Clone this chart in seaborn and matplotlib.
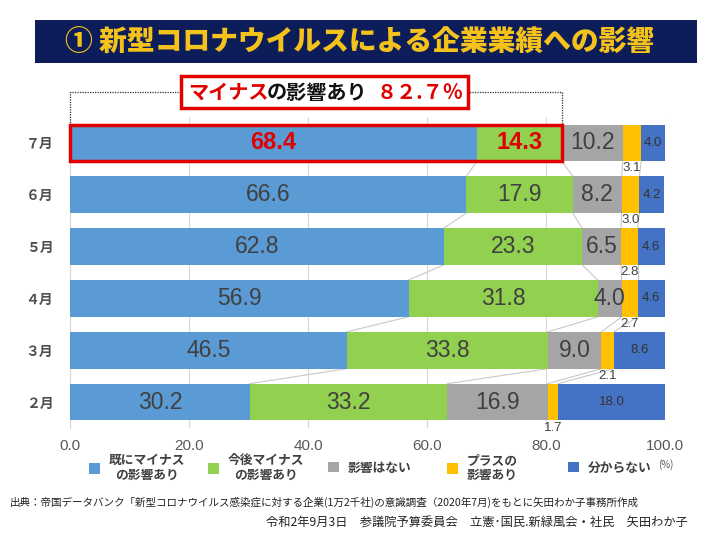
import numpy as np
import pandas as pd
import matplotlib.pyplot as plt
from matplotlib.patches import Rectangle, Patch
import seaborn as sns

sns.set_style("white")
plt.rcParams['font.family'] = ['Noto Sans CJK JP', 'DejaVu Sans']

months = ['７月', '６月', '５月', '４月', '３月', '２月']
already_minus = [68.4, 66.6, 62.8, 56.9, 46.5, 30.2]
future_minus = [14.3, 17.9, 23.3, 31.8, 33.8, 33.2]
no_effect = [10.2, 8.2, 6.5, 4.0, 9.0, 16.9]
plus_effect = [3.1, 3.0, 2.8, 2.7, 2.1, 1.7]
unknown = [4.0, 4.2, 4.6, 4.6, 8.6, 18.0]

series_names = ['既にマイナス\nの影響あり', '今後マイナス\nの影響あり', '影響はない',
                'プラスの\n影響あり', '分からない']
colors = ['#5b9bd5', '#92d050', '#a5a5a5', '#ffc000', '#4472c4']
xticks = [0, 20, 40, 60, 80, 100]

df = pd.DataFrame({'month': months, 's0': already_minus, 's1': future_minus,
                   's2': no_effect, 's3': plus_effect, 's4': unknown})
vals = df[['s0', 's1', 's2', 's3', 's4']].to_numpy()
cum = vals.cumsum(axis=1)
left = cum - vals

W, H = 720, 540
fig = plt.figure(figsize=(7.2, 5.4), dpi=100)
fig.patch.set_facecolor('white')

def fx(px):
    return px / W

def fy(py):
    return 1 - py / H

ax = fig.add_axes([fx(70), fy(428), fx(665) - fx(70), fy(117) - fy(428)])
bar_h = 0.71

# stacked bars: draw cumulative totals from the back
for k in range(4, -1, -1):
    sns.barplot(x=cum[:, k], y=df['month'], orient='h', color=colors[k],
                saturation=1, width=bar_h, ax=ax, edgecolor='none', zorder=3)

# series lines between bars
for k in range(4):
    for i in range(len(months) - 1):
        ax.plot([cum[i, k], cum[i + 1, k]], [i + bar_h / 2, i + 1 - bar_h / 2],
                color='#c8c8c8', lw=0.8, zorder=2)

ax.set_xlim(0, 100)
ax.set_ylim(len(months) - 0.5, -0.5)
ax.set_xticks(xticks)
ax.set_xticklabels([f'{t:.1f}' for t in xticks], fontsize=11, color='#595959',
                   family=['Liberation Sans', 'DejaVu Sans'])
ax.tick_params(axis='x', length=0, pad=8)
ax.tick_params(axis='y', length=0, pad=12)
for lab in ax.get_yticklabels():
    lab.set_fontsize(10)
    lab.set_fontweight('bold')
    lab.set_color('#505050')
ax.set_xlabel('')
ax.set_ylabel('')
ax.grid(axis='x', color='#d9d9d9', lw=0.8, zorder=0)
for s in ['top', 'right', 'bottom']:
    ax.spines[s].set_visible(False)
ax.spines['left'].set_color('#d9d9d9')

narrow = ['Liberation Sans Narrow', 'Liberation Sans', 'DejaVu Sans']
for i in range(len(months)):
    for k in range(3):
        x = left[i, k] + vals[i, k] / 2
        if i == 0 and k < 2:
            ax.text(x, i, f'{vals[i, k]:.1f}', ha='center', va='center', fontsize=17,
                    fontweight='bold', color='#e00000', family=narrow, zorder=5)
        else:
            ax.text(x, i, f'{vals[i, k]:.1f}', ha='center', va='center', fontsize=16.5,
                    color='#404040', family=narrow, zorder=5)
    ax.text(left[i, 3] + vals[i, 3] / 2, i + bar_h / 2 + 0.02, f'{vals[i, 3]:.1f}',
            ha='center', va='top', fontsize=9.5, color='#404040',
            family=['Liberation Sans', 'DejaVu Sans'], zorder=5)
    ax.text(left[i, 4] + vals[i, 4] / 2, i, f'{vals[i, 4]:.1f}', ha='center', va='center',
            fontsize=9.5, color='#333333', family=narrow, zorder=5)

# red frame around July minus share
ax.add_patch(Rectangle((0, -bar_h / 2), cum[0, 1], bar_h, fill=False, ec='#e00000',
                       lw=2.5, zorder=6, clip_on=False))
# dotted bracket
y_br = -0.98
ax.plot([0, 0, cum[0, 1], cum[0, 1]], [-bar_h / 2, y_br, y_br, -bar_h / 2],
        ls=(0, (1, 1)), color='#333333', lw=0.9, clip_on=False, zorder=4)

# callout box
fig.patches.append(Rectangle((fx(181), fy(108)), fx(468) - fx(181), fy(76) - fy(108),
                             transform=fig.transFigure, fc='white', ec='#e00000', lw=2.5,
                             zorder=10))
ty = fy(92)
fig.text(fx(188), ty, 'マイナス', color='#e00000', fontsize=14.5, fontweight='bold',
         va='center', ha='left', zorder=11)
fig.text(fx(267), ty, 'の影響あり', color='#111111', fontsize=14.5, fontweight='bold',
         va='center', ha='left', zorder=11)
fig.text(fx(377), ty, '８２.７％', color='#e00000', fontsize=14.5, fontweight='bold',
         va='center', ha='left', zorder=11)

# title banner
fig.patches.append(Rectangle((fx(35), fy(63)), fx(697) - fx(35), fy(20) - fy(63),
                             transform=fig.transFigure, fc='#0c1d5a', ec='none', zorder=1))
fig.text(fx(360), fy(42), '① 新型コロナウイルスによる企業業績への影響', color='#f5c21b',
         fontsize=20, fontweight='heavy', ha='center', va='center', zorder=2)

# legend: fixed-width slots like the original
slot_x = [89, 208, 328, 447, 568]
for k in range(5):
    leg = fig.legend([Patch(facecolor=colors[k], edgecolor='none')], [series_names[k]],
                     loc='center left', bbox_to_anchor=(fx(slot_x[k]), fy(468)),
                     frameon=False, handlelength=0.85, handleheight=0.85,
                     handletextpad=0.7, borderpad=0, borderaxespad=0,
                     prop={'size': 9.2, 'weight': 'bold'})
    for t in leg.get_texts():
        t.set_color('#404040')
        t.set_linespacing(1.2)
        if k < 2:
            t.set_multialignment('center')
fig.text(fx(658), fy(465), '(%)', fontsize=7, color='#595959', va='center', ha='left')

# source notes
fig.text(fx(10), fy(502), '出典：帝国データバンク「新型コロナウイルス感染症に対する企業(1万2千社)の意識調査（2020年7月)をもとに矢田わか子事務所作成',
         fontsize=7.6, color='#222222', ha='left', va='center')
fig.text(fx(688), fy(523), '令和2年9月3日　参議院予算委員会　立憲･国民.新緑風会・社民　矢田わか子',
         fontsize=8.8, color='#222222', ha='right', va='center')

fig.savefig('out.png', dpi=100)
